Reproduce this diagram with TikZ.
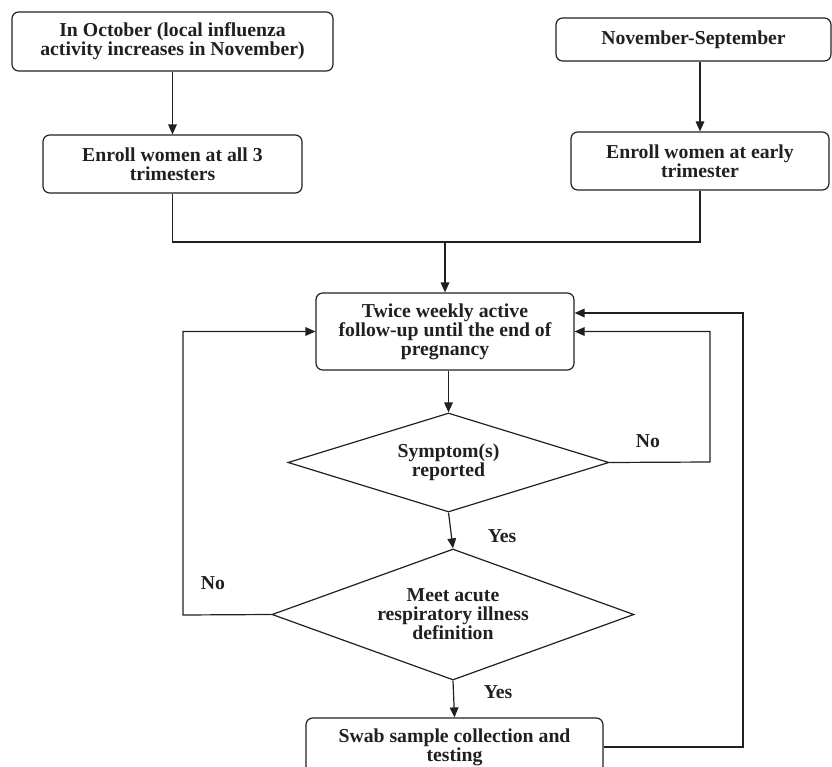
\documentclass[tikz,border=0pt]{standalone}
\usepackage{fontspec}
\setmainfont{Liberation Serif}
\usetikzlibrary{arrows.meta,shapes.geometric}
\definecolor{fluInk}{HTML}{231F20}
\tikzset{
  flu line/.style={draw=fluInk, line width=0.9pt},
  flu arrow/.style={flu line, -{Triangle[length=7.5pt,width=6.5pt]}},
  flu text/.style={font=\bfseries\fontsize{14.8}{14.3}\selectfont, text=fluInk, align=center, inner sep=0pt},
  flu box/.style={flu text, flu line, rounded corners=5pt},
  flu diamond/.style={flu text, flu line, diamond, aspect=3},
  flu label/.style={flu text},
}

\begin{document}
\begin{tikzpicture}[x=0.75pt, y=-0.75pt]
  \clip (0,0) rectangle (832,767);

  % Enrolment boxes
  \node[flu box, minimum width=240.75pt, minimum height=44.25pt] (octBox) at (172.5,41.5)
    {In October (local influenza\\activity increases in November)};
  \node[flu box, minimum width=194.25pt, minimum height=43.5pt] (allTri) at (172.5,164)
    {Enroll women at all 3\\trimesters};
  \node[flu box, minimum width=206.25pt, minimum height=32.25pt] (novBox) at (693.5,39.5)
    {November-September};
  \node[flu box, minimum width=193.5pt, minimum height=43.5pt] (earlyTri) at (700,161)
    {Enroll women at early\\trimester};

  % Follow-up and decisions
  \node[flu box, minimum width=193.5pt, minimum height=57.75pt] (followUp) at (445,331.5)
    {Twice weekly active\\follow-up until the end of\\pregnancy};
  \node[flu diamond, minimum width=240.75pt, minimum height=74.25pt] (symptom) at (448.5,462.5)
    {Symptom(s)\\reported};
  \node[flu diamond, minimum width=271.5pt, minimum height=98.25pt] (ariDef) at (453,614.5)
    {Meet acute\\respiratory illness\\definition};
  \node[flu box, minimum width=222.75pt, minimum height=43.5pt] (swab) at (454.5,747)
    {Swab sample collection and\\testing};

  % Answer labels
  \node[flu label] (noRight) at (648,441) {No};
  \node[flu label] (yesOne) at (502,536) {Yes};
  \node[flu label] (noLeft) at (213,583) {No};
  \node[flu label] (yesTwo) at (498,692) {Yes};

  % Helper points for the joins and loops
  \coordinate (joinL) at (172.5,242);
  \coordinate (joinR) at (700,242);
  \coordinate (joinMid) at (445,242);
  \coordinate (loopNo) at (710,462);
  \coordinate (loopLeft) at (183,615);
  \coordinate (loopSwab) at (743,313);

  % Top part
  \draw[flu arrow] (octBox) -- (allTri);
  \draw[flu arrow] (earlyTri.north |- novBox.south) -- (earlyTri.north);
  \draw[flu line] (allTri.south) -- (joinL) -- (joinR) -- (earlyTri.south);
  \draw[flu arrow] (joinMid) -- (followUp.north);

  % Main column
  \draw[flu arrow] (followUp.south -| symptom.north) -- (symptom.north);
  \draw[flu arrow] (symptom.south) -- (ariDef.north);
  \draw[flu arrow] (ariDef.south) -- (swab.north);

  % Loops back to follow-up
  \draw[flu arrow] (symptom.east) -- (loopNo) -- (loopNo |- followUp.east) -- (followUp.east);
  \draw[flu arrow] (ariDef.west) -- (loopLeft) -- (loopLeft |- followUp.west) -- (followUp.west);
  \draw[flu arrow] (swab.east) -| (loopSwab) -- (loopSwab -| followUp.east);
\end{tikzpicture}
\end{document}
